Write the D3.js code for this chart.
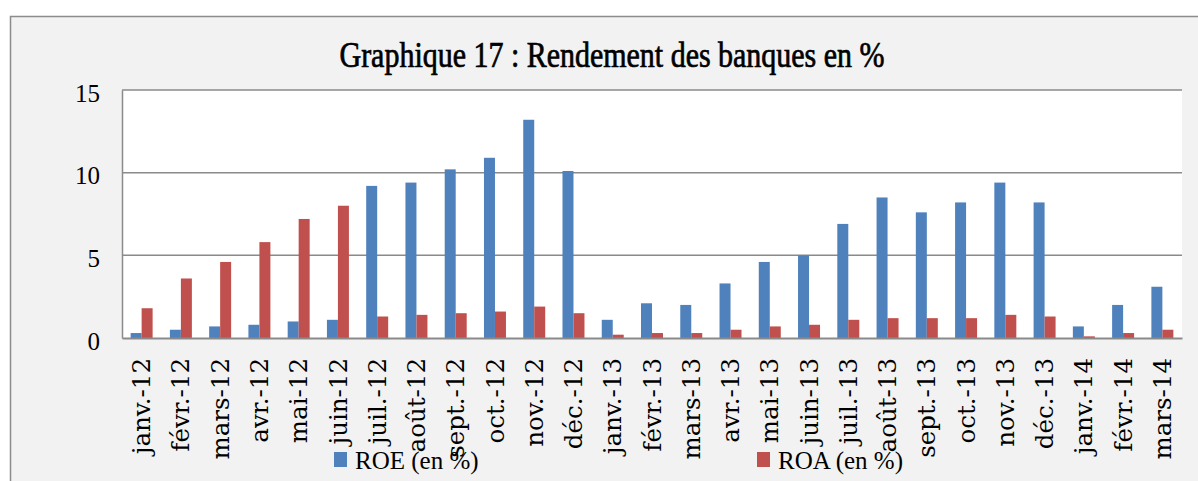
<!DOCTYPE html>
<html>
<head>
<meta charset="utf-8">
<script src="https://cdn.jsdelivr.net/npm/d3@7"></script>
<style>
  body { margin: 0; background: #fff; }
  svg { display: block; }
</style>
</head>
<body>
<div id="chart"></div>
<script>
// data
var months = ['janv.-12', 'févr.-12', 'mars-12', 'avr.-12', 'mai-12', 'juin-12', 'juil.-12', 'août-12', 'sept.-12', 'oct.-12', 'nov.-12', 'déc.-12',
	'janv.-13', 'févr.-13', 'mars-13', 'avr.-13', 'mai-13', 'juin-13', 'juil.-13', 'août-13', 'sept.-13', 'oct.-13', 'nov.-13', 'déc.-13',
	'janv.-14', 'févr.-14', 'mars-14'];
var roe = [0.3, 0.5, 0.7, 0.8, 1.0, 1.1, 9.2, 9.4, 10.2, 10.9, 13.2, 10.1,
	1.1, 2.1, 2.0, 3.3, 4.6, 5.0, 6.9, 8.5, 7.6, 8.2, 9.4, 8.2,
	0.7, 2.0, 3.1];
var roa = [1.8, 3.6, 4.6, 5.8, 7.2, 8.0, 1.3, 1.4, 1.5, 1.6, 1.9, 1.5,
	0.2, 0.3, 0.3, 0.5, 0.7, 0.8, 1.1, 1.2, 1.2, 1.2, 1.4, 1.3,
	0.1, 0.3, 0.5];
var seriesNames = ['ROE (en %)', 'ROA (en %)'];
var yTicks = [0, 5, 10, 15];
var colors = ['#4f81bd', '#c0504d'];

var dataset = months.map(function (m, i) {
	return { month: m, values: [roe[i], roa[i]] };
});

// chart
var W = 1198, H = 481;
var plot = { left: 122, right: 1182, top: 90, bottom: 338 };
var serif = '"Liberation Serif", "Times New Roman", serif';

var svg = d3.select('#chart')
	.append('svg')
	.attr('width', W)
	.attr('height', H);

// chart area background + border
svg.append('rect')
	.attr('x', 10.5)
	.attr('y', 16.5)
	.attr('width', 1230)
	.attr('height', 500)
	.attr('fill', '#f2f2f2')
	.attr('stroke', '#8c8c8c')
	.attr('stroke-width', 1.5);

// plot area
svg.append('rect')
	.attr('x', plot.left)
	.attr('y', plot.top)
	.attr('width', plot.right - plot.left)
	.attr('height', plot.bottom - plot.top)
	.attr('fill', '#ffffff');

var x = d3.scaleBand()
	.domain(months)
	.range([plot.left, plot.right])
	.paddingInner(0.44)
	.paddingOuter(0.22);

var xs = d3.scaleBand()
	.domain([0, 1])
	.range([0, x.bandwidth()]);

var y = d3.scaleLinear()
	.domain([0, 15])
	.range([plot.bottom, plot.top]);

// gridlines
svg.append('g')
	.selectAll('line')
	.data(yTicks.filter(function (d) { return d > 0; }))
	.enter()
	.append('line')
	.attr('x1', plot.left)
	.attr('x2', plot.right)
	.attr('y1', function (d) { return y(d); })
	.attr('y2', function (d) { return y(d); })
	.attr('stroke', '#8a8a8a')
	.attr('stroke-width', 1.5);

// bars
var groups = svg.append('g')
	.selectAll('g')
	.data(dataset)
	.enter()
	.append('g')
	.attr('transform', function (d) { return 'translate(' + x(d.month) + ',0)'; });

groups.selectAll('rect')
	.data(function (d) { return d.values; })
	.enter()
	.append('rect')
	.attr('x', function (d, i) { return xs(i); })
	.attr('y', function (d) { return y(d); })
	.attr('width', xs.bandwidth())
	.attr('height', function (d) { return y(0) - y(d); })
	.attr('fill', function (d, i) { return colors[i]; });

// axes
var y_axis = d3.axisLeft(y)
	.tickValues(yTicks)
	.tickSize(0)
	.tickPadding(22);

var yg = svg.append('g')
	.attr('transform', 'translate(' + plot.left + ',0)')
	.call(y_axis);
yg.attr('font-family', null);
yg.select('.domain')
	.attr('stroke', '#8a8a8a')
	.attr('stroke-width', 1.5);
yg.selectAll('text')
	.attr('dy', '0.45em')
	.style('font-family', serif)
	.style('font-size', '25px')
	.attr('fill', '#000');

var x_axis = d3.axisBottom(x)
	.tickSize(0)
	.tickPadding(0);

var xg = svg.append('g')
	.attr('transform', 'translate(0,' + plot.bottom + ')')
	.call(x_axis);
xg.attr('font-family', null);
xg.select('.domain')
	.attr('stroke', '#8a8a8a')
	.attr('stroke-width', 2);
xg.selectAll('text')
	.attr('transform', 'rotate(-90)')
	.attr('x', -20)
	.attr('y', 0)
	.attr('dy', '0.35em')
	.style('text-anchor', 'end')
	.style('font-family', '"DejaVu Serif", serif')
	.style('font-size', '24.5px')
	.attr('fill', '#000');

// title (condensed, medium weight)
svg.append('text')
	.attr('x', 612)
	.attr('y', 67)
	.attr('text-anchor', 'middle')
	.attr('textLength', 545)
	.attr('lengthAdjust', 'spacingAndGlyphs')
	.attr('stroke', '#000')
	.attr('stroke-width', 0.7)
	.style('font-family', serif)
	.style('font-size', '35px')
	.text('Graphique 17 : Rendement des banques en %');

// legend
var legendX = [334, 757];
var legend = svg.append('g')
	.selectAll('g')
	.data(seriesNames)
	.enter()
	.append('g')
	.attr('transform', function (d, i) { return 'translate(' + legendX[i] + ',0)'; });

legend.append('rect')
	.attr('x', 0)
	.attr('y', 452)
	.attr('width', 13)
	.attr('height', 15)
	.attr('fill', function (d, i) { return colors[i]; });

legend.append('text')
	.attr('x', 21)
	.attr('y', 469)
	.style('font-family', serif)
	.style('font-size', '25px')
	.text(function (d) { return d; });
</script>
</body>
</html>
